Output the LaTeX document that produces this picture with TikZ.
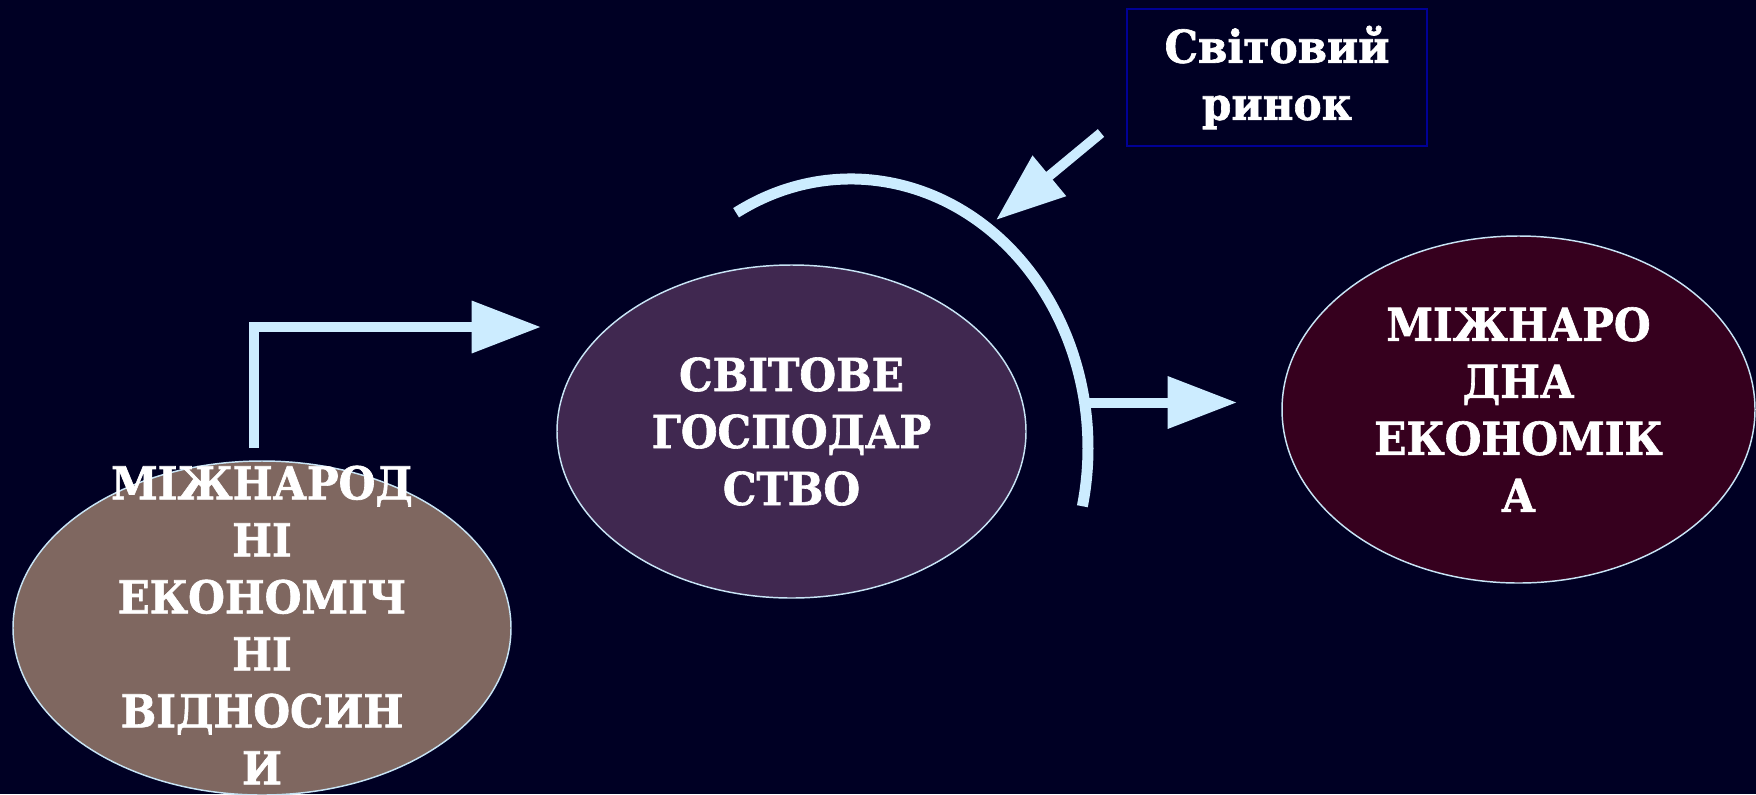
\documentclass[tikz,border=0pt]{standalone}
\usepackage{fontspec}
\setmainfont{DejaVu Serif}[FakeStretch=0.93, BoldFeatures={FakeBold=1.4}]
\usetikzlibrary{shapes.geometric,arrows.meta}

\definecolor{bgnavy}{RGB}{0,0,36}
\definecolor{arrowblue}{RGB}{204,236,255}
\definecolor{rimblue}{RGB}{200,228,245}
\definecolor{boxblue}{RGB}{0,0,150}
\definecolor{brownfill}{RGB}{127,103,96}
\definecolor{violetfill}{RGB}{64,40,80}
\definecolor{winefill}{RGB}{54,0,30}

\tikzset{every picture/.style={line width=0.75pt},
	oval/.style={ellipse, draw=rimblue, line width=1.1pt, inner sep=0pt},
	ovaltext/.style={text=white, align=center, inner sep=0pt, font=\bfseries\fontsize{34}{42.75}\selectfont},
	fat arrow/.style={draw=arrowblue, line width=7.5pt, line join=miter, -{Triangle[length=52pt,width=37.5pt]}}
}

\begin{document}
\begin{tikzpicture}[x=0.75pt,y=0.75pt,yscale=-1,xscale=1]
	\fill [bgnavy] (0,0) rectangle (1756,794) ;
	\useasboundingbox (0,0) rectangle (1756,794) ;
	
	\draw (262,628) node [oval, fill=brownfill, minimum width=373.5pt, minimum height=250.5pt] (mevoval) {} ;
	\draw (791.5,431.5) node [oval, fill=violetfill, minimum width=351.75pt, minimum height=249.75pt] (sgoval) {} ;
	\draw (1518.5,409.5) node [oval, fill=winefill, minimum width=354.75pt, minimum height=260.25pt] (meoval) {} ;
	\draw (1277,77.5) node [draw=boxblue, line width=1.5pt, minimum width=225pt, minimum height=102.75pt, inner sep=0pt] (rynok) {} ;
	
	\draw (262,625) node [ovaltext] (mevtext) {МІЖНАРОД\\НІ\\ЕКОНОМІЧ\\НІ\\ВІДНОСИН\\И} ;
	\draw (sgoval.center) node [ovaltext] (sgtext) {СВІТОВЕ\\ГОСПОДАР\\СТВО} ;
	\draw (meoval.center) node [ovaltext] (metext) {МІЖНАРО\\ДНА\\ЕКОНОМІК\\А} ;
	\draw (rynok.center) node [ovaltext] (rynoktext) {Світовий\\ринок} ;
	
	% arc round the world economy
	\coordinate (arccentre) at (851,448) ;
	\draw [arrowblue, line width=8.25pt] (arccentre) ++(-119:237 and 269) arc [start angle=-119, end angle=12.5, x radius=237, y radius=269] ;
	
	\coordinate (elbowfoot) at (254,448) ;
	\coordinate (elbowtip) at (541,327) ;
	\coordinate (arcfoot) at (1083,402.5) ;
	\coordinate (arctip) at (1237,402.5) ;
	\coordinate (rynokfoot) at (1101,133) ;
	\coordinate (rynoktip) at (996,220) ;
	
	\draw [fat arrow] (elbowfoot) |- (elbowtip) ;
	\draw [fat arrow] (arcfoot) -- (arctip) ;
	\draw [fat arrow] (rynokfoot) -- (rynoktip) ;
\end{tikzpicture}
\end{document}
